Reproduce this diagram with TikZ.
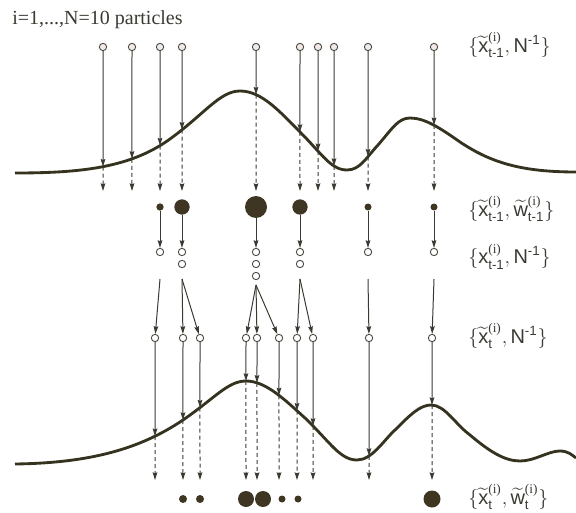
\documentclass[tikz,border=0pt]{standalone}
\usepackage{fontspec}
\setmainfont{Liberation Serif}
\setsansfont{Liberation Sans}
\usepackage{amsmath}
\usetikzlibrary{arrows.meta,intersections}
\definecolor{ink}{HTML}{3A3A32}
\definecolor{curve}{HTML}{35331F}
\definecolor{dotc}{HTML}{3E3622}
\definecolor{ring}{HTML}{4A4A42}
\definecolor{pale}{HTML}{F2E9E9}
\tikzset{
  particle/.style={circle,draw=ring,fill=white,line width=.55pt,inner sep=0pt,minimum size=4.4pt},
  wdot/.style={circle,fill=dotc,inner sep=0pt,minimum size=#1},
  lik/.style={draw=curve,line width=1.7pt},
  solidarr/.style={draw=ink,line width=.6pt,-{Stealth[length=4.6pt,width=2.8pt,inset=.6pt]}},
  dasharr/.style={solidarr,dash pattern=on 2.4pt off 1.8pt},
  lab/.style={anchor=west,inner sep=0pt,text=ink,font=\sffamily\fontsize{12}{14}\selectfont}
}
\begin{document}
\begin{tikzpicture}[x=0.6pt,y=-0.6pt]
  \useasboundingbox (0,0) rectangle (576,513);
  \node[anchor=base west,inner sep=0pt,text=ink,font=\rmfamily\fontsize{12}{14}\selectfont] (title) at (12,25) {i=1,...,N=10 particles};

  % likelihood curves
  \draw[lik,name path=liktop] (15,173) .. controls (80,173) and (130,168) .. (170,139)
    .. controls (205,113.5) and (220,91) .. (240,91)
    .. controls (262,91) and (280,112) .. (300,132)
    .. controls (322,154) and (331,170) .. (347,170)
    .. controls (360,170) and (366,158) .. (378,145)
    .. controls (392,129) and (398,118) .. (410,118)
    .. controls (425,118) and (440,128) .. (460,142)
    .. controls (490,162) and (520,172) .. (576,172);
  \draw[lik,name path=likbot] (15,464) .. controls (90,463) and (140,449) .. (183,420)
    .. controls (215,398) and (228,381) .. (246,381)
    .. controls (266,381) and (285,400) .. (305,418)
    .. controls (330,442) and (340,460) .. (357,460)
    .. controls (372,460) and (383,441) .. (395,430)
    .. controls (410,415) and (420,405) .. (431,405)
    .. controls (445,405) and (455,424) .. (470,435)
    .. controls (490,452) and (505,461) .. (520,461)
    .. controls (535,461) and (548,451) .. (560,451)
    .. controls (568,451) and (572,455) .. (576,458);

  % particles at t-1 through the likelihood
  \foreach \px [count=\k] in {103,132,160,182,256,300,318,334,368,434} {
    \node[particle,fill=pale] (a\k) at (\px,47) {};
    \path[name path=va\k] (\px,47) -- (\px,200);
    \path[name intersections={of=liktop and va\k,by=ca\k}];
    \coordinate (ea\k) at (\px,191);
    \draw[solidarr] (a\k) -- (ca\k);
    \draw[dasharr] (ca\k) -- (ea\k);
  }

  % weights and resampling
  \foreach \k/\px/\d/\n in {3/160/4.4pt/1,4/182/9.2pt/2,5/256/13.2pt/3,6/300/9.2pt/2,9/368/4.2pt/1,10/434/4.2pt/1} {
    \node[wdot=\d] (w\k) at (\px,207) {};
    \foreach \j in {1,...,\n}
      \node[particle] (r\k-\j) at (\px,{252+12*(\j-1)}) {};
    \draw[solidarr] (w\k) -- (r\k-1);
    \pgfmathsetmacro{\fy}{max(279,249+12*\n)}
    \coordinate (f\k) at (\px,\fy);
  }

  % prediction
  \foreach \m/\px/\k in {1/155/3,2/183/4,3/200/4,4/246/5,5/257/5,6/279/5,7/297/6,8/313/6,9/369/9,10/432/10} {
    \node[particle] (b\m) at (\px,338) {};
    \draw[solidarr] (f\k) -- (b\m);
    \path[name path=vb\m] (\px,338) -- (\px,490);
    \path[name intersections={of=likbot and vb\m,by=cb\m}];
    \coordinate (eb\m) at (\px,480);
    \draw[solidarr] (b\m) -- (cb\m);
    \draw[dasharr] (cb\m) -- (eb\m);
  }

  % new weights
  \foreach \m/\px/\d in {2/183/4.8pt,3/200/4.8pt,4/246/9.6pt,5/263/9.6pt,6/282/4.2pt,7/298/4.2pt,10/432/10.2pt}
    \node[wdot=\d] (d\m) at (\px,499) {};

  \node[lab] (l1) at (468,45) {$\{\widetilde{\text{x}}^{\text{\rmfamily(i)}}_{\text{t-1}},\text{N}^{\text{-1}}\}$};
  \node[lab] (l2) at (468,209) {$\{\widetilde{\text{x}}^{\text{\rmfamily(i)}}_{\text{t-1}},\widetilde{\text{w}}^{\text{\rmfamily(i)}}_{\text{t-1}}\}$};
  \node[lab] (l3) at (468,257) {$\{\text{x}^{\text{\rmfamily(i)}}_{\text{t-1}},\text{N}^{\text{-1}}\}$};
  \node[lab] (l4) at (468,336) {$\{\widetilde{\text{x}}^{\text{\rmfamily(i)}}_{\text{t}},\text{N}^{\text{-1}}\}$};
  \node[lab] (l5) at (468,497) {$\{\widetilde{\text{x}}^{\text{\rmfamily(i)}}_{\text{t}},\widetilde{\text{w}}^{\text{\rmfamily(i)}}_{\text{t}}\}$};
\end{tikzpicture}
\end{document}
